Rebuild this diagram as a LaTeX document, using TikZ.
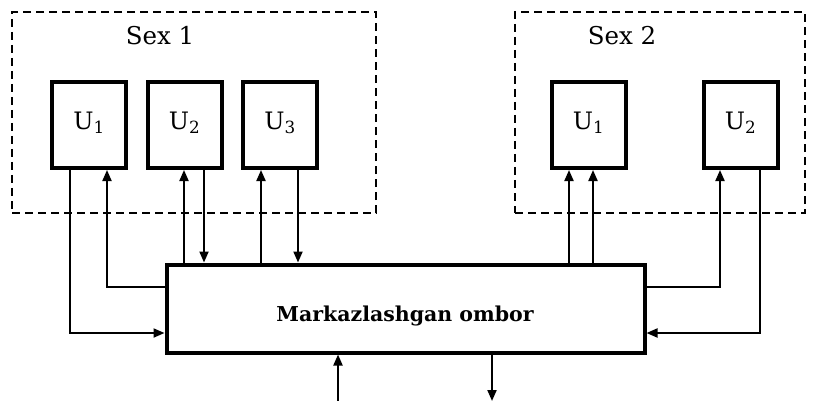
\documentclass[tikz,border=0pt]{standalone}
\usepackage{fontspec}
\setmainfont{DejaVu Serif}
\usetikzlibrary{arrows.meta}
\begin{document}
\begin{tikzpicture}[x=1pt,y=-1pt,
  ubox/.style={draw, line width=4pt, minimum width=74pt, minimum height=86pt, inner sep=0pt,
    font=\fontsize{24}{28}\selectfont},
  sexbox/.style={draw, line width=2pt, dash pattern=on 8pt off 5pt, inner sep=0pt, outer sep=0pt},
  sexlabel/.style={font=\fontsize{24.5}{28}\selectfont, inner sep=0pt},
  mainbox/.style={draw, line width=4pt, minimum width=478pt, minimum height=88pt, inner sep=0pt},
  conn/.style={line width=2pt},
  arr/.style={conn, -{Triangle[length=11pt,width=9pt]}}]
\useasboundingbox (0,0) rectangle (824,401);
% dashed workshop boxes
\node[sexbox, minimum width=364pt, minimum height=201pt] (s1) at (194,112.5) {};
\node[sexbox, minimum width=290pt, minimum height=201pt] (s2) at (660,112.5) {};
\node[sexlabel] (l1) at (160,36) {Sex 1};
\node[sexlabel] (l2) at (622,36) {Sex 2};
% units
\node[ubox] (u11) at (89,125) {\raisebox{8pt}{U\textsubscript{1}}};
\node[ubox] (u12) at (184.5,125) {\raisebox{8pt}{U\textsubscript{2}}};
\node[ubox] (u13) at (280,125) {\raisebox{8pt}{U\textsubscript{3}}};
\node[ubox] (u21) at (588.5,125) {\raisebox{8pt}{U\textsubscript{1}}};
\node[ubox] (u22) at (740.5,125) {\raisebox{8pt}{U\textsubscript{2}}};
% central storage
\node[mainbox] (main) at (405.5,308.5) {};
\node[font=\fontsize{20.5}{24}\selectfont\bfseries, inner sep=0pt] (mt) at (405,316) {Markazlashgan ombor};
% connectors sex 1
\draw[arr] (u11.south -| 70,0) |- (main.west |- 0,333);
\draw[arr] (main.west |- 0,287) -| (u11.south -| 107,0);
\draw[arr] (main.north -| 184,0) -- (u12.south -| 184,0);
\draw[arr] (u12.south -| 204,0) -- (main.north -| 204,0);
\draw[arr] (main.north -| 261,0) -- (u13.south -| 261,0);
\draw[arr] (u13.south -| 298,0) -- (main.north -| 298,0);
% connectors sex 2
\draw[arr] (main.north -| 569,0) -- (u21.south -| 569,0);
\draw[arr] (main.north -| 593,0) -- (u21.south -| 593,0);
\draw[arr] (main.east |- 0,287) -| (u22.south -| 720,0);
\draw[arr] (u22.south -| 760,0) |- (main.east |- 0,333);
% external in/out
\coordinate (ein) at (338,401);
\coordinate (eout) at (492,401);
\draw[arr] (ein) -- (main.south -| ein);
\draw[arr] (main.south -| eout) -- (eout);
\end{tikzpicture}
\end{document}
